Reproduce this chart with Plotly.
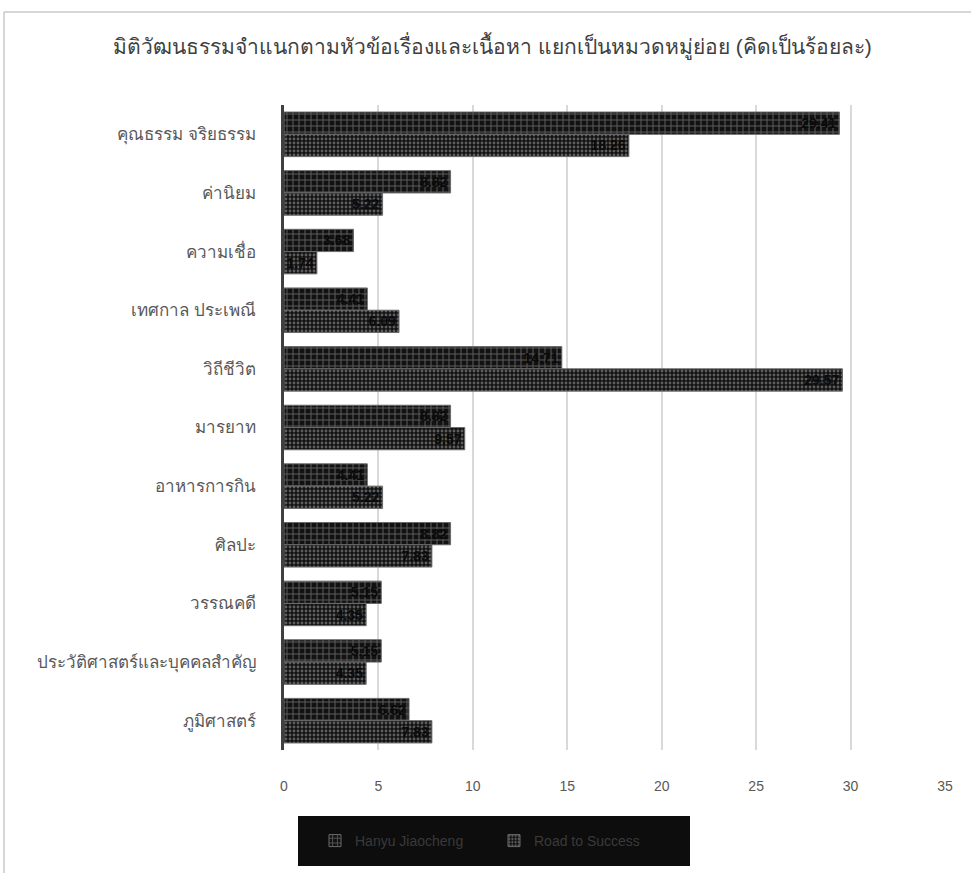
import plotly.graph_objects as go

categories = [
    "คุณธรรม จริยธรรม",
    "ค่านิยม",
    "ความเชื่อ",
    "เทศกาล ประเพณี",
    "วิถีชีวิต",
    "มารยาท",
    "อาหารการกิน",
    "ศิลปะ",
    "วรรณคดี",
    "ประวัติศาสตร์และบุคคลสำคัญ",
    "ภูมิศาสตร์",
]
hanyu = [29.41, 8.82, 3.68, 4.41, 14.71, 8.82, 4.41, 8.82, 5.15, 5.15, 6.62]
road = [18.26, 5.22, 1.74, 6.09, 29.57, 9.57, 5.22, 7.83, 4.35, 4.35, 7.83]
series_names = ["Hanyu Jiaocheng", "Road to Success"]
x_ticks = [0, 5, 10, 15, 20, 25, 30, 35]
title_text = "มิติวัฒนธรรมจำแนกตามหัวข้อเรื่องและเนื้อหา แยกเป็นหมวดหมู่ย่อย (คิดเป็นร้อยละ)"

W, H = 971, 873
L, R, T, B = 284, 26, 105, 123
pw, ph = W - L - R, H - T - B


def px2x(p):
    return (p - L) / pw


def py2y(p):
    return (H - B - p) / ph


label_font = dict(color="#0a0a0a", size=14, family="Liberation Sans, Arial, sans-serif", weight="bold")

fig = go.Figure()
fig.add_trace(go.Bar(
    y=categories, x=hanyu, orientation="h", name=series_names[0],
    marker=dict(color="#111111", line=dict(width=1, color="#6a6a6a"),
                pattern=dict(shape="+", fgcolor="#a8a8a8", bgcolor="#121212",
                             size=6, solidity=0.3)),
    text=[f"{v:.2f}" for v in hanyu], textposition="inside",
    insidetextanchor="end", constraintext="none",
    textfont=label_font,
))
fig.add_trace(go.Bar(
    y=categories, x=road, orientation="h", name=series_names[1],
    marker=dict(color="#111111", line=dict(width=1, color="#6a6a6a"),
                pattern=dict(shape=".", fgcolor="#a8a8a8", bgcolor="#121212",
                             size=4, solidity=0.4)),
    text=[f"{v:.2f}" for v in road], textposition="inside",
    insidetextanchor="end", constraintext="none",
    textfont=label_font,
))

fig.update_layout(
    width=W, height=H,
    margin=dict(l=L, r=R, t=T, b=B, pad=0),
    paper_bgcolor="white", plot_bgcolor="white",
    barmode="group", bargap=0.24, bargroupgap=0,
    font=dict(family="Liberation Sans, Arial, sans-serif", color="#595959"),
    title=dict(text=title_text, x=0.507, xanchor="center", y=1 - 47 / H,
               yanchor="middle", xref="container", yref="container",
               font=dict(size=21, color="#404040", weight="normal")),
    uniformtext=dict(mode="show", minsize=8),
    showlegend=True,
    legend=dict(orientation="h", x=px2x(315), xanchor="left",
                y=py2y(841), yanchor="middle", bgcolor="rgba(0,0,0,0)",
                font=dict(size=14, color="#3a3a3a"), entrywidth=134,
                traceorder="normal"),
    xaxis=dict(range=[0, 35], tickvals=x_ticks, showgrid=True,
               gridcolor="#d9d9d9", gridwidth=1.5, zeroline=False,
               showline=False, ticks="", tickfont=dict(size=14, color="#595959"),
               ticklabelstandoff=26),
    yaxis=dict(autorange="reversed", showline=True, linecolor="#404040",
               linewidth=3, ticks="", tickfont=dict(size=17, color="#595959"),
               ticklabelstandoff=22, showgrid=False, zeroline=False),
    shapes=[
        dict(type="rect", xref="paper", yref="paper",
             x0=px2x(298), x1=px2x(690), y0=py2y(816), y1=py2y(866),
             fillcolor="#0d0d0d", line=dict(width=0), layer="below"),
        dict(type="line", xref="paper", yref="paper",
             x0=px2x(4), x1=px2x(975), y0=py2y(12), y1=py2y(12),
             line=dict(color="#c8c8c8", width=1.5)),
        dict(type="line", xref="paper", yref="paper",
             x0=px2x(4), x1=px2x(4), y0=py2y(12), y1=py2y(880),
             line=dict(color="#c8c8c8", width=1.5)),
    ],
)

fig.write_html("out.html")
